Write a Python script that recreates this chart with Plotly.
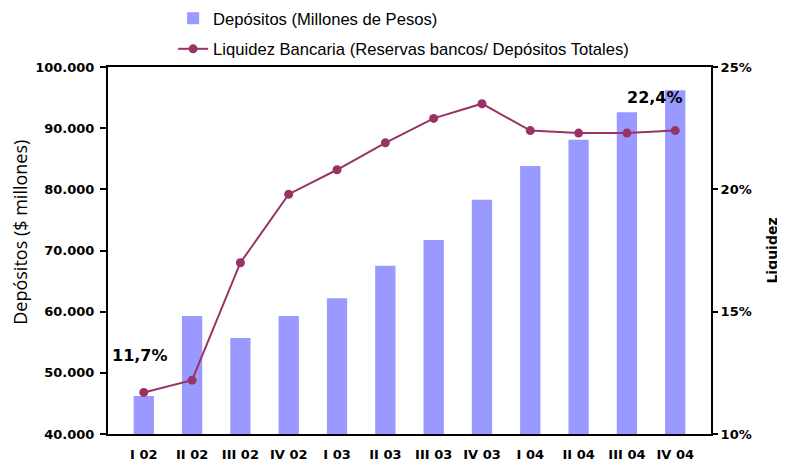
import plotly.graph_objects as go

categories = ["I 02", "II 02", "III 02", "IV 02", "I 03", "II 03", "III 03",
              "IV 03", "I 04", "II 04", "III 04", "IV 04"]
depositos = [46200, 59300, 55700, 59300, 62200, 67500, 71700, 78300,
             83800, 88100, 92600, 96200]
liquidez = [11.7, 12.2, 17.0, 19.8, 20.8, 21.9, 22.9, 23.5, 22.4, 22.3, 22.3, 22.4]

left_ticks = [40000, 50000, 60000, 70000, 80000, 90000, 100000]
right_ticks = [10, 15, 20, 25]
right_labels = [f"{v}%" for v in right_ticks]

bold_tick = dict(family="DejaVu Sans", size=13, color="black", weight="bold")
legend_font = dict(family="Liberation Sans Narrow, Liberation Sans, Arial", size=16.6, color="black")

fig = go.Figure()
fig.add_trace(go.Bar(
    x=categories, y=depositos, name="Depósitos (Millones de Pesos)",
    marker=dict(color="#9999FF", line=dict(width=0)), width=0.42,
    legendgroup="a", yaxis="y"))
fig.add_trace(go.Scatter(
    x=categories, y=liquidez, name="Liquidez Bancaria (Reservas bancos/ Depósitos Totales)",
    mode="lines+markers", line=dict(color="#993366", width=2),
    marker=dict(color="#993366", size=9), legendgroup="b", yaxis="y2"))

ann_font = dict(family="DejaVu Sans", size=16, color="black", weight="bold")
fig.add_annotation(x=categories[0], y=liquidez[0], yref="y2", text="11,7%",
                   showarrow=False, yshift=37, xshift=-4, font=ann_font)
fig.add_annotation(x=categories[-2], y=liquidez[-1], yref="y2", text="22,4%",
                   showarrow=False, yshift=33, xshift=28, font=ann_font)
# left axis title (placed like the original, slightly above centre)
fig.add_annotation(xref="paper", yref="paper", x=-0.145, y=0.55,
                   text="Depósitos ($ millones)", textangle=-90, showarrow=False,
                   xanchor="center", yanchor="middle", borderpad=0,
                   font=dict(family="Open Sans", size=18, color="black"))

fig.update_layout(
    width=777, height=460,
    margin=dict(l=100, r=74, t=59, b=34, autoexpand=False),
    paper_bgcolor="white", plot_bgcolor="white",
    separators=",.",
    showlegend=True,
    legend=dict(x=0.108, y=1.18, xanchor="left", yanchor="top",
                font=legend_font, tracegroupgap=6, bgcolor="rgba(0,0,0,0)"),
    xaxis=dict(type="category", showline=True, linecolor="black", linewidth=2,
               mirror=True, ticks="", tickfont=bold_tick, ticklabelstandoff=7,
               showgrid=False, zeroline=False, automargin=False),
    yaxis=dict(range=[40000, 100000], tickvals=left_ticks, tickformat=",d",
               showline=True, linecolor="black", linewidth=2, ticks="outside",
               ticklen=6, tickwidth=2, tickcolor="black", tickfont=bold_tick,
               ticklabelstandoff=3,
               showgrid=False, zeroline=False, automargin=False),
    yaxis2=dict(range=[10, 25], tickvals=right_ticks, ticktext=right_labels,
                overlaying="y", side="right", showline=True, linecolor="black",
                linewidth=2, ticks="outside", ticklen=5, tickwidth=2, tickcolor="black",
                tickfont=bold_tick, showgrid=False, zeroline=False, automargin=False,
                title=dict(text="Liquidez", standoff=16,
                           font=dict(family="DejaVu Sans", size=14, color="black", weight="bold"))),
)

fig.write_html("out.html")
